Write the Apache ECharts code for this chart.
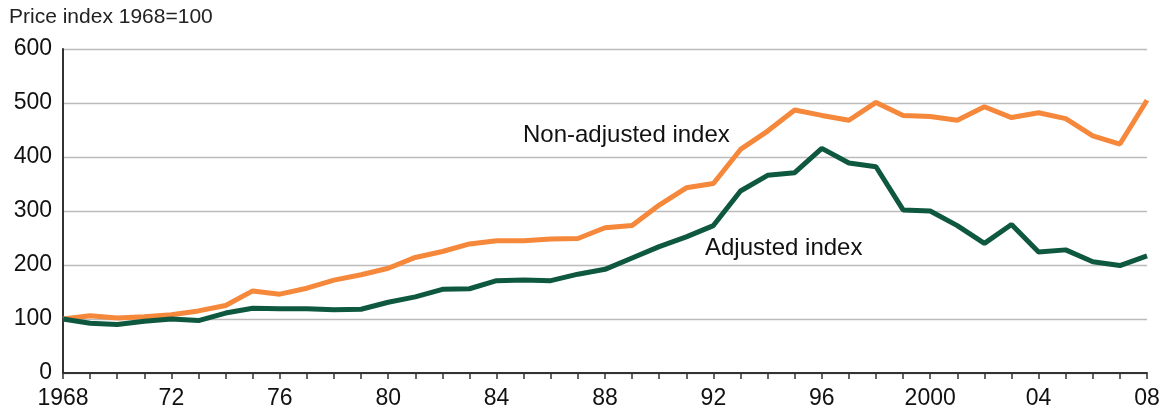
<!DOCTYPE html>
<html>
<head>
<meta charset="utf-8">
<script src="https://cdn.jsdelivr.net/npm/echarts@6/dist/echarts.min.js"></script>
<style>
  html, body { margin: 0; padding: 0; background: #fff; }
  #chart { width: 1165px; height: 413px; }
</style>
</head>
<body>
<div id="chart"></div>
<script>
// years 1968..2008
const years = []
for (let y = 1968; y <= 2008; y++) years.push(y)

const nonAdjusted = [100, 106, 102, 104, 108, 115, 125, 152, 146, 157, 172, 182, 194,
  214, 225, 239, 245, 245, 248, 249, 269, 273, 311, 343, 351, 414, 448, 487, 477, 468,
  501, 477, 475, 468, 493, 473, 482, 471, 439, 424, 505]

const adjusted = [100, 92, 90, 96, 100, 97, 111, 120, 119, 119, 117, 118, 131,
  141, 155, 156, 171, 172, 171, 183, 192, 213, 234, 252, 273, 337, 366, 371, 416, 389,
  382, 302, 300, 273, 240, 275, 224, 228, 206, 199, 217]

const yTicks = [0, 100, 200, 300, 400, 500, 600]

const labelFont = 'Liberation Sans, Arial, sans-serif'

function pairs (vals) {
  return years.map((y, i) => [y, vals[i]])
}

const chart = echarts.init(document.getElementById('chart'))
chart.setOption({
  animation: false,
  grid: { left: 63, right: 18, top: 49, bottom: 40 },
  xAxis: {
    type: 'value',
    min: 1968,
    max: 2008,
    interval: 1,
    axisLine: { lineStyle: { color: '#333', width: 2 } },
    axisTick: { show: true, length: 6, lineStyle: { color: '#333', width: 1.5 } },
    splitLine: { show: false },
    axisLabel: {
      margin: 14,
      color: '#111',
      fontFamily: labelFont,
      fontSize: 23,
      formatter: v => {
        if (v % 4 !== 0) return ''
        if (v === 1968 || v === 2000) return String(v)
        return String(v).slice(2)
      }
    }
  },
  yAxis: {
    type: 'value',
    min: yTicks[0],
    max: yTicks[yTicks.length - 1],
    interval: 100,
    axisLine: { show: true, lineStyle: { color: '#333', width: 2 } },
    axisTick: { show: false },
    splitLine: { lineStyle: { color: '#bbb', width: 1.3 } },
    axisLabel: {
      margin: 11,
      color: '#111',
      fontFamily: labelFont,
      fontSize: 23
    }
  },
  graphic: [
    {
      type: 'text', left: 9, top: 7,
      style: { text: 'Price index 1968=100', fontSize: 21, fontFamily: labelFont, fill: '#222' }
    },
    {
      type: 'text', left: 523, top: 123,
      style: { text: 'Non-adjusted index', fontSize: 24, fontFamily: labelFont, fill: '#111' }
    },
    {
      type: 'text', left: 705, top: 236,
      style: { text: 'Adjusted index', fontSize: 24, fontFamily: labelFont, fill: '#111' }
    }
  ],
  series: [
    {
      name: 'Non-adjusted index',
      type: 'line',
      data: pairs(nonAdjusted),
      showSymbol: false,
      lineStyle: { color: '#F5883A', width: 5 },
      z: 3
    },
    {
      name: 'Adjusted index',
      type: 'line',
      data: pairs(adjusted),
      showSymbol: false,
      lineStyle: { color: '#0F5840', width: 5 },
      z: 4
    }
  ]
})
</script>
</body>
</html>
